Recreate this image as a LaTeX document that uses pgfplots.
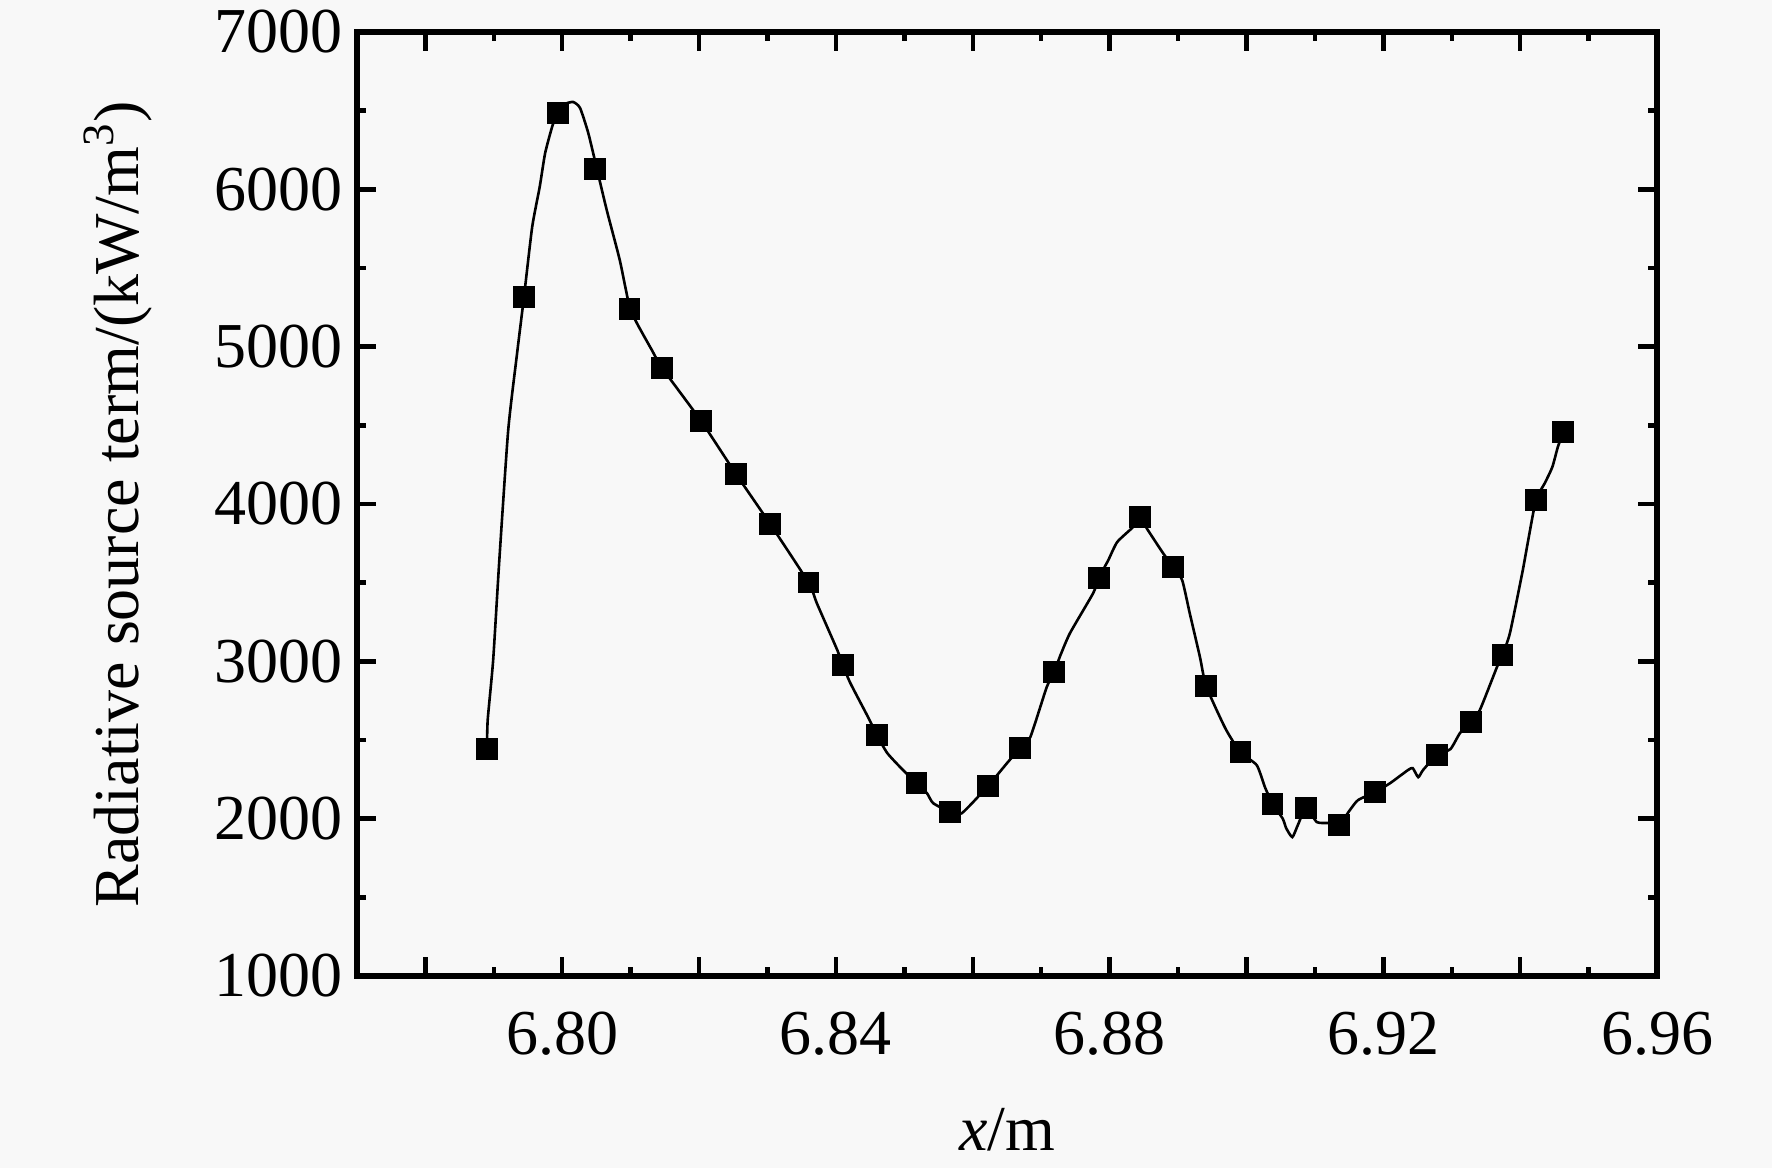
\documentclass[border=0pt]{standalone}
\usepackage{pgfplots}
\pgfplotsset{compat=1.18}
\usepackage{fontspec}
\setmainfont{Liberation Serif}
\definecolor{bg}{RGB}{248,248,248}
\begin{document}
\begin{tikzpicture}
\useasboundingbox (-89.25pt,-48pt) rectangle (353.75pt,244pt);
\fill[bg] (-89.25pt,-48pt) rectangle (353.75pt,244pt);
\begin{axis}[
  scale only axis,
  width=325pt, height=236pt,
  xmin=6.77, xmax=6.96,
  ymin=1000, ymax=7000,
  xtick={6.78,6.80,6.82,6.84,6.86,6.88,6.90,6.92,6.94,6.96},
  xticklabels={,6.80,,6.84,,6.88,,6.92,,6.96},
  ytick={1000,2000,3000,4000,5000,6000,7000},
  yticklabels={1000,2000,3000,4000,5000,6000,7000},
  minor x tick num=1,
  minor y tick num=1,
  tick align=inside,
  major tick length=4.75pt,
  minor tick length=2.3pt,
  every tick/.style={black, line width=1.1pt},
  axis line style={line width=1.3pt},
  ticklabel style={font=\fontsize{16}{19}\selectfont},
  xticklabel style={anchor=center, yshift=-14.5pt},
  label style={font=\fontsize{16}{19}\selectfont},
  xlabel={\textit{x}/m},
  ylabel={Radiative source term/(kW/m\textsuperscript{3})},
  xlabel style={at={(axis description cs:0.5,-0.163)}, anchor=center},
  ylabel style={at={(axis description cs:-0.184,0.5)}, anchor=center},
  axis background/.style={fill=bg},
]
\addplot[black, line width=0.65pt, no markers, smooth, tension=0.35] coordinates {
(6.7890,2442) (6.7891,2626) (6.7899,3008) (6.7908,3643) (6.7921,4470)
(6.7934,4959) (6.7944,5315) (6.7956,5760) (6.7967,6015) (6.7975,6231)
(6.7986,6409) (6.7994,6485) (6.8004,6542) (6.8016,6555) (6.8026,6517)
(6.8038,6358) (6.8051,6123) (6.8065,5868) (6.8084,5551) (6.8098,5260)
(6.8109,5150) (6.8131,4978) (6.8146,4864) (6.8203,4527) (6.8254,4190)
(6.8304,3872) (6.8360,3500) (6.8372,3370) (6.8402,3071) (6.8410,2976)
(6.8421,2862) (6.8447,2645) (6.8460,2531) (6.8475,2417) (6.8498,2309)
(6.8518,2226) (6.8533,2162) (6.8542,2099) (6.8567,2042) (6.8584,2035)
(6.8622,2207) (6.8650,2353) (6.8669,2448) (6.8684,2518) (6.8708,2836)
(6.8719,2932) (6.8727,3027) (6.8742,3179) (6.8776,3434) (6.8784,3529)
(6.8798,3643) (6.8811,3758) (6.8834,3853) (6.8844,3917) (6.8855,3840)
(6.8878,3688) (6.8893,3599) (6.8906,3516) (6.8917,3307) (6.8932,3027)
(6.8941,2843) (6.8969,2575) (6.8991,2423) (6.9015,2340) (6.9027,2200)
(6.9038,2095) (6.9053,2000) (6.9058,1940) (6.9067,1883) (6.9075,1959)
(6.9087,2067) (6.9103,1978) (6.9122,1972) (6.9135,1959) (6.9151,2054)
(6.9163,2118) (6.9188,2169) (6.9210,2226) (6.9236,2309) (6.9243,2321)
(6.9251,2264) (6.9258,2309) (6.9278,2404) (6.9298,2442) (6.9312,2544)
(6.9328,2614) (6.9341,2690) (6.9366,2963) (6.9374,3040) (6.9385,3179)
(6.9403,3561) (6.9411,3752) (6.9423,4025) (6.9436,4133) (6.9447,4235)
(6.9455,4362) (6.9463,4457)
};
\addplot[only marks, mark=square*, mark size=2.5pt, black] coordinates {
(6.7890,2442) (6.7944,5315) (6.7994,6485) (6.8048,6129) (6.8098,5239)
(6.8146,4864) (6.8203,4527) (6.8254,4190) (6.8304,3872) (6.8360,3500)
(6.8410,2976) (6.8460,2531) (6.8518,2226) (6.8567,2042) (6.8622,2207)
(6.8669,2448) (6.8719,2932) (6.8784,3529) (6.8844,3917) (6.8893,3599)
(6.8941,2843) (6.8991,2423) (6.9038,2095) (6.9087,2067) (6.9135,1959)
(6.9188,2169) (6.9278,2404) (6.9328,2614) (6.9374,3040) (6.9423,4025)
(6.9463,4457)
};
\end{axis}
\end{tikzpicture}
\end{document}
